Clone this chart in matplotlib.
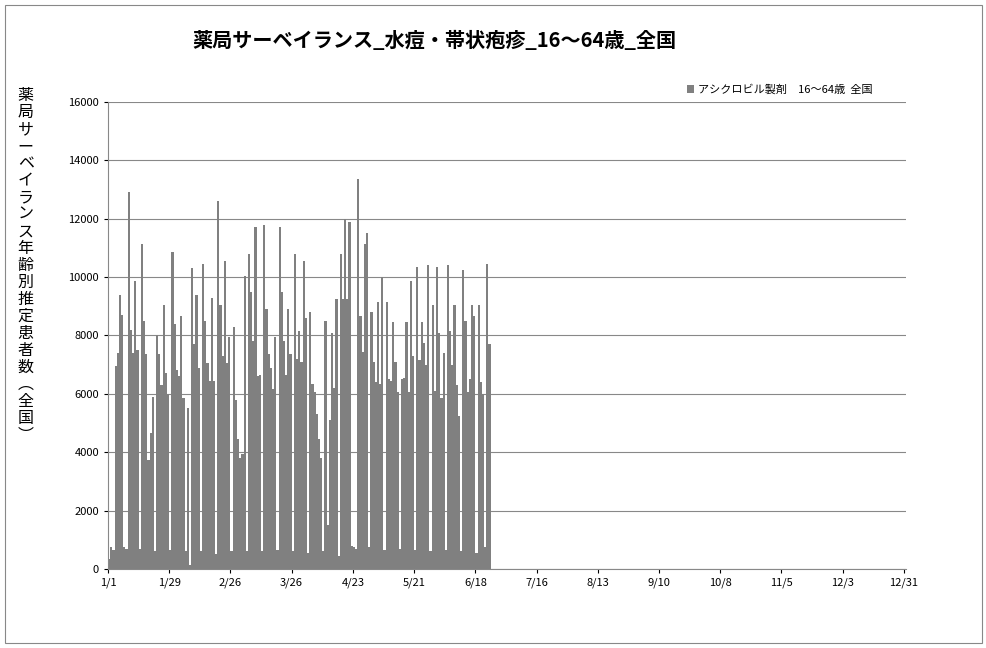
import matplotlib
matplotlib.use("Agg")
import matplotlib.pyplot as plt
from matplotlib.patches import Rectangle

plt.rcParams["font.family"] = "Noto Sans CJK JP"

title = "薬局サーベイランス_水痘・帯状疱疹_16～64歳_全国"
series_name = "アシクロビル製剤　16～64歳  全国"
ylabel = "薬局サーベイランス年齢別推定患者数(全国)"
tick_labels = ["1/1", "1/29", "2/26", "3/26", "4/23", "5/21", "6/18", "7/16",
               "8/13", "9/10", "10/8", "11/5", "12/3", "12/31"]
tick_days = [0, 28, 56, 84, 112, 140, 168, 196, 224, 252, 280, 308, 336, 364]
values = [
    350, 750, 650, 6950, 7400, 9400, 8700,
    750, 700, 12900, 8200, 7400, 9850, 7500,
    700, 11150, 8500, 7350, 3750, 4650, 5900,
    600, 8000, 7350, 6300, 9050, 6700, 6000,
    650, 10850, 8400, 6800, 6600, 8650, 5850,
    600, 5500, 150, 10300, 7700, 9400, 6900,
    600, 10450, 8500, 7050, 6450, 9300, 6450,
    500, 12600, 9050, 7300, 10550, 7050, 7950,
    600, 8300, 5800, 4450, 3800, 3950, 10050,
    600, 10800, 9500, 7800, 11700, 6600, 6650,
    600, 11800, 8900, 7350, 6900, 6150, 7950,
    650, 11700, 9500, 7800, 6650, 8900, 7350,
    600, 10800, 7200, 8150, 7100, 10550, 8600,
    550, 8800, 6350, 6050, 5300, 4450, 3800,
    600, 8500, 1500, 5100, 8100, 6200, 9250,
    450, 10800, 9250, 12000, 9250, 11900, 800,
    750, 700, 13350, 8650, 7450, 11150, 11500,
    750, 8800, 7100, 6400, 9150, 6350, 10000,
    650, 9150, 6500, 6450, 8450, 7100, 6050,
    700, 6500, 6550, 8450, 6050, 9850, 7300,
    650, 10350, 7150, 8450, 7750, 7000, 10400,
    600, 9050, 6100, 10350, 8100, 5850, 7400,
    650, 10400, 8150, 7000, 9050, 6300, 5250,
    600, 10250, 8500, 6050, 6500, 9050, 8650,
    550, 9050, 6400, 6000, 750, 10450, 7700,
]

fig = plt.figure(figsize=(9.87, 6.48), dpi=100)
fig.patches.append(Rectangle((0.005, 0.008), 0.99, 0.984, transform=fig.transFigure,
                             fill=False, edgecolor="#888888", linewidth=0.8))
ax = fig.add_axes([0.1094, 0.122, 0.8086, 0.7206])
days = list(range(len(values)))
ax.bar(days, values, width=1.0, color="#808080", label=series_name, align="edge")
ax.set_xlim(0, 365)
ax.set_ylim(0, 16000)
ax.set_yticks(range(0, 16001, 2000))
ax.set_xticks(tick_days)
ax.set_xticklabels(tick_labels)
ax.tick_params(labelsize=8, length=3, direction="out", colors="black")
ax.yaxis.grid(True, color="#888888", linewidth=0.8)
ax.set_axisbelow(True)
for s in ["top", "right"]:
    ax.spines[s].set_visible(False)
ax.spines["left"].set_color("#888888")
ax.spines["bottom"].set_color("#888888")
fig.text(0.44, 0.938, title, ha="center", va="center", fontsize=14.5, fontweight="bold")
fig.text(0.026, 0.59, "\n".join(ylabel.replace("(", "︵").replace(")", "︶")),
         ha="center", va="center", fontsize=11.5, linespacing=1.0)
ax.legend(loc="upper right", bbox_to_anchor=(0.97, 1.06), frameon=False, fontsize=8,
          handlelength=0.7, handleheight=0.7, handletextpad=0.3)
fig.savefig("out.png", dpi=100)
